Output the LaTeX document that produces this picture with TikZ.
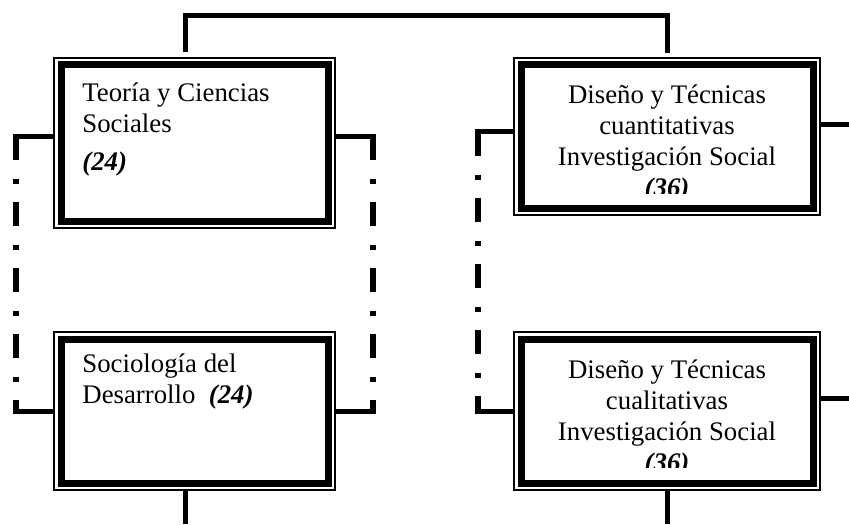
\documentclass[tikz,border=0pt]{standalone}
\usepackage{fontspec}
\setmainfont{Liberation Serif}
\begin{document}
\begin{tikzpicture}[x=0.5pt, y=-0.5pt]
\tikzstyle{cadre} = [draw, line width=0.6pt, inner sep=0, outer sep=0,
  path picture={\draw[line width=3.5pt]
    ([shift={(7,7)}]path picture bounding box.north west) rectangle
    ([shift={(-7,-7)}]path picture bounding box.south east);}]
\tikzstyle{texte} = [inner sep=0, font=\fontsize{13.4}{15.5}\selectfont]
\tikzstyle{liaison} = [line width=2.5pt]
\tikzstyle{pointille} = [line width=3pt, dash pattern=on 12pt off 9.5pt on 2.5pt off 9pt]
\useasboundingbox (0,0) rectangle (849,524);
% cadres
\node[cadre, minimum width=140.5pt, minimum height=85pt] (teoria) at (194.5,143) {};
\node[cadre, minimum width=153pt, minimum height=78.5pt] (cuanti) at (667,136.5) {};
\node[cadre, minimum width=140.5pt, minimum height=79pt] (socio) at (194.5,411) {};
\node[cadre, minimum width=153pt, minimum height=79pt] (cuali) at (667,411) {};
% textes (base = derniere ligne)
\node[texte, anchor=base west, align=left] (tteoria) at (82,170)
  {Teoría y Ciencias\\Sociales\\[3.5pt]\textbf{\textit{(24)}}};
\node[texte, anchor=base west, align=left] (tsocio) at (82,403)
  {Sociología del\\Desarrollo\ \ \textbf{\textit{(24)}}};
\begin{scope}
\clip (520,70) rectangle (812,193);
\node[texte, anchor=base, align=center] (tcuanti) at (667,196)
  {Diseño y Técnicas\\cuantitativas\\Investigación Social\\\textbf{\textit{(36)}}};
\end{scope}
\begin{scope}
\clip (520,345) rectangle (812,467);
\node[texte, anchor=base, align=center] (tcuali) at (667,471)
  {Diseño y Técnicas\\cualitativas\\Investigación Social\\\textbf{\textit{(36)}}};
\end{scope}
% liaisons
\draw[liaison] ([shift={(-9.5,-6)}]teoria.north) -- ++(0,-36) -| ([shift={(0,-5)}]cuanti.north);
\draw[liaison, shorten >=-1.5pt] ([shift={(0,-7)}]teoria.west) -- ++(-38,0) coordinate (g1);
\draw[liaison, shorten >=-1.5pt] (socio.west) -- ++(-38,0) coordinate (g3);
\draw[pointille] (g1) -- (g3);
\draw[liaison, shorten >=-1.5pt] ([shift={(0,-7)}]teoria.east) -- ++(38,0) coordinate (d1);
\draw[liaison, shorten >=-1.5pt] (socio.east) -- ++(38,0) coordinate (d3);
\draw[pointille] (d1) -- (d3);
\draw[liaison, shorten >=-1.5pt] ([shift={(0,-5)}]cuanti.west) -- ++(-36,0) coordinate (g2);
\draw[liaison, shorten >=-1.5pt] (cuali.west) -- ++(-36,0) coordinate (g4);
\draw[pointille] (g2) -- (g4);
\draw[liaison] ([shift={(0,-12)}]cuanti.east) -- ++(29,0) coordinate (e2);
\draw[liaison] ([shift={(0,-12.5)}]cuali.east) -- ++(29,0) coordinate (e4);
\draw[liaison] ([shift={(-9.5,1)}]socio.south) -- ++(0,33) coordinate (b3);
\draw[liaison] ([shift={(0,1)}]cuali.south) -- ++(0,33) coordinate (b4);
\end{tikzpicture}
\end{document}
